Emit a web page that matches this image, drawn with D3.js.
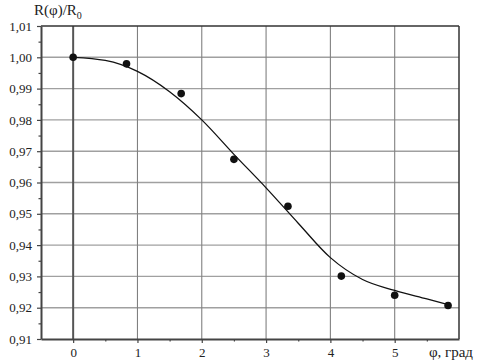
<!DOCTYPE html>
<html>
<head>
<meta charset="utf-8">
<script src="https://cdn.jsdelivr.net/npm/d3@7"></script>
<style>
  body { margin: 0; background: #fff; }
  svg text { font-family: "Liberation Serif", "Times New Roman", serif !important; fill: #222; }
</style>
</head>
<body>
<div id="chart"></div>
<script>
// measured points
let phi = [0, 0.83, 1.68, 2.5, 3.34, 4.17, 5.0, 5.83];
let ratio = [1.000, 0.9979, 0.9884, 0.9674, 0.9524, 0.9301, 0.9240, 0.9207];

// fitted curve
let fitPhi = [0, 0.5, 1, 1.5, 2, 2.5, 3, 3.5, 4, 4.5, 5, 5.5, 5.83];
let fitRatio = [1.000, 0.9990, 0.9955, 0.9890, 0.9800, 0.9690, 0.9583, 0.9470, 0.9360, 0.9290, 0.9255, 0.9228, 0.9210];

let xTicks = [0, 1, 2, 3, 4, 5];
let yTicks = [0.91, 0.92, 0.93, 0.94, 0.95, 0.96, 0.97, 0.98, 0.99, 1.00, 1.01];

let width = 492, height = 362;
let margin = {top: 26, right: 33, bottom: 23, left: 41};

let svg = d3.select("#chart").append("svg")
            .attr("width", width)
            .attr("height", height)
            .attr("font-family", "'Liberation Serif', serif");

let x = d3.scaleLinear().domain([-0.5, 6]).range([margin.left, width - margin.right]);
let y = d3.scaleLinear().domain([0.91, 1.01]).range([height - margin.bottom, margin.top]);

// grid
svg.append("g").selectAll("line")
   .data(yTicks.slice(1, -1))
   .enter().append("line")
   .attr("x1", x(-0.5)).attr("x2", x(6))
   .attr("y1", d => y(d)).attr("y2", d => y(d))
   .style("stroke", "#a0a0a0").style("stroke-width", 1.4);

svg.append("g").selectAll("line")
   .data(xTicks)
   .enter().append("line")
   .attr("x1", d => x(d)).attr("x2", d => x(d))
   .attr("y1", y(0.91)).attr("y2", y(1.01))
   .style("stroke", d => d === 0 ? "#555" : "#808080")
   .style("stroke-width", d => d === 0 ? 2 : 1.1);

// frame top / right
svg.append("line")
   .attr("x1", x(-0.5)).attr("x2", x(6)).attr("y1", y(1.01)).attr("y2", y(1.01))
   .style("stroke", "#333").style("stroke-width", 1.5);
svg.append("line")
   .attr("x1", x(6)).attr("x2", x(6)).attr("y1", y(1.01)).attr("y2", y(0.91))
   .style("stroke", "#333").style("stroke-width", 1.5);

// axes
let fmt = d => d3.format(".2f")(d).replace(".", ",");

let yAxis = svg.append("g")
   .attr("transform", "translate(" + x(-0.5) + ",0)")
   .call(d3.axisLeft(y).tickValues(yTicks).tickFormat(fmt).tickSize(4).tickSizeOuter(0));
svg.append("g")
   .attr("transform", "translate(" + x(-0.5) + ",0)")
   .call(d3.axisLeft(y).tickValues(d3.range(0.915, 1.01, 0.01)).tickFormat("").tickSize(2.5).tickSizeOuter(0))
   .call(g => g.select(".domain").remove());

let xAxis = svg.append("g")
   .attr("transform", "translate(0," + y(0.91) + ")")
   .call(d3.axisBottom(x).tickValues(xTicks).tickFormat(d3.format("d")).tickSize(4).tickSizeOuter(0));
svg.append("g")
   .attr("transform", "translate(0," + y(0.91) + ")")
   .call(d3.axisBottom(x).tickValues([0.5, 1.5, 2.5, 3.5, 4.5, 5.5]).tickFormat("").tickSize(2.5).tickSizeOuter(0))
   .call(g => g.select(".domain").remove());

svg.selectAll("g").attr("font-family", "'Liberation Serif', serif");
svg.selectAll(".domain").style("stroke", "#444").style("stroke-width", 2);
svg.selectAll(".tick line").style("stroke", "#444").style("stroke-width", 1.2);
svg.selectAll(".tick text").style("font-size", "13px").style("fill", "#222");
yAxis.selectAll(".tick text").attr("x", -9);
xAxis.selectAll(".tick text").attr("y", 9);

// curve
let line = d3.line()
   .x((d, i) => x(fitPhi[i]))
   .y(d => y(d))
   .curve(d3.curveMonotoneX);

svg.append("path")
   .attr("d", line(fitRatio))
   .style("fill", "none")
   .style("stroke", "#111")
   .style("stroke-width", 1.3);

// points
svg.append("g").selectAll("circle")
   .data(ratio)
   .enter().append("circle")
   .attr("cx", (d, i) => x(phi[i]))
   .attr("cy", d => y(d))
   .attr("r", 3.8)
   .style("fill", "#111");

// labels
let yl = svg.append("text")
   .attr("x", 34).attr("y", 15)
   .style("font-size", "15px");
yl.append("tspan").text("R(φ)/R");
yl.append("tspan").attr("dy", 4).style("font-size", "10px").text("0");

svg.append("text")
   .attr("x", 473).attr("y", 357)
   .attr("text-anchor", "end")
   .style("font-size", "15px")
   .text("φ, град");
</script>
</body>
</html>
